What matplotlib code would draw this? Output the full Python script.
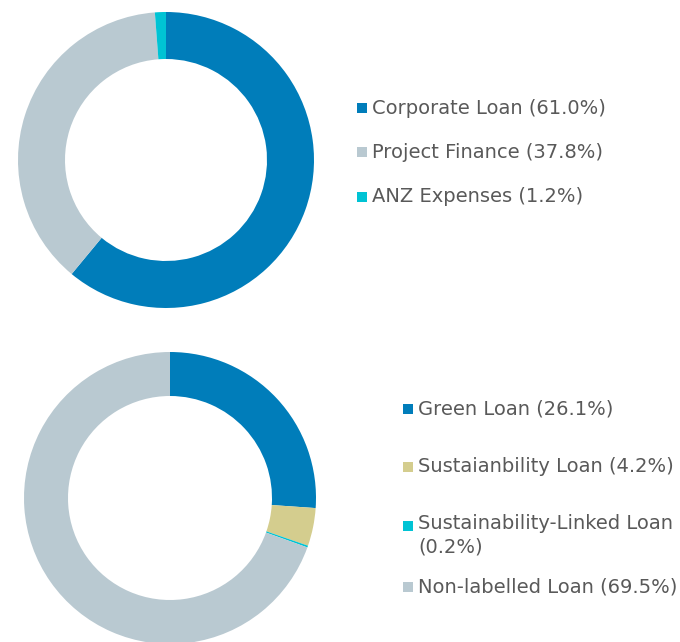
import matplotlib
matplotlib.use("Agg")
import matplotlib.pyplot as plt
from matplotlib.patches import Rectangle

W, H = 680, 642

top_labels = ["Corporate Loan", "Project Finance", "ANZ Expenses"]
top_values = [61.0, 37.8, 1.2]
top_colors = ["#007DBA", "#B9C9D1", "#00C3D4"]

bot_labels = ["Green Loan", "Sustaianbility Loan", "Sustainability-Linked Loan", "Non-labelled Loan"]
bot_values = [26.1, 4.2, 0.2, 69.5]
bot_colors = ["#007DBA", "#D4CD8E", "#00C3D4", "#B9C9D1"]
bot_display = ["Green Loan (26.1%)", "Sustaianbility Loan (4.2%)",
               "Sustainability-Linked Loan\n(0.2%)", "Non-labelled Loan (69.5%)"]

fig = plt.figure(figsize=(W / 100, H / 100), dpi=100)
plt.rcParams['font.family'] = ['DejaVu Sans']
text_color = "#595959"
FS = 14


def donut(cx, cy, r, width_px, values, colors):
    ax = fig.add_axes([(cx - r) / W, (H - cy - r) / H, 2 * r / W, 2 * r / H])
    ax.pie(values, colors=colors, startangle=90, counterclock=False,
           radius=1.0, wedgeprops=dict(width=width_px / r, linewidth=0))
    ax.set_xlim(-1, 1)
    ax.set_ylim(-1, 1)
    ax.axis("off")
    return ax


donut(166, 160, 148, 47, top_values, top_colors)
donut(170, 498, 146, 44, bot_values, bot_colors)

top_texts = [f"{l} ({v:.1f}%)" for l, v in zip(top_labels, top_values)]
for y, t, c in zip([108, 152, 197], top_texts, top_colors):
    fig.patches.append(Rectangle((357 / W, (H - y - 5) / H), 10 / W, 10 / H,
                                 transform=fig.transFigure, facecolor=c, edgecolor="none"))
    fig.text(372 / W, (H - y) / H, t, fontsize=FS, color=text_color,
             va="center", ha="left")

for y, t, c in zip([409, 467, 526, 587], bot_display, bot_colors):
    fig.patches.append(Rectangle((403 / W, (H - y - 5) / H), 10 / W, 10 / H,
                                 transform=fig.transFigure, facecolor=c, edgecolor="none"))
    if "\n" in t:
        fig.text(418 / W, (H - y + 12) / H, t, fontsize=FS, color=text_color,
                 va="top", ha="left", linespacing=1.32)
    else:
        fig.text(418 / W, (H - y) / H, t, fontsize=FS, color=text_color,
                 va="center", ha="left")

fig.savefig("out.png", dpi=100)
